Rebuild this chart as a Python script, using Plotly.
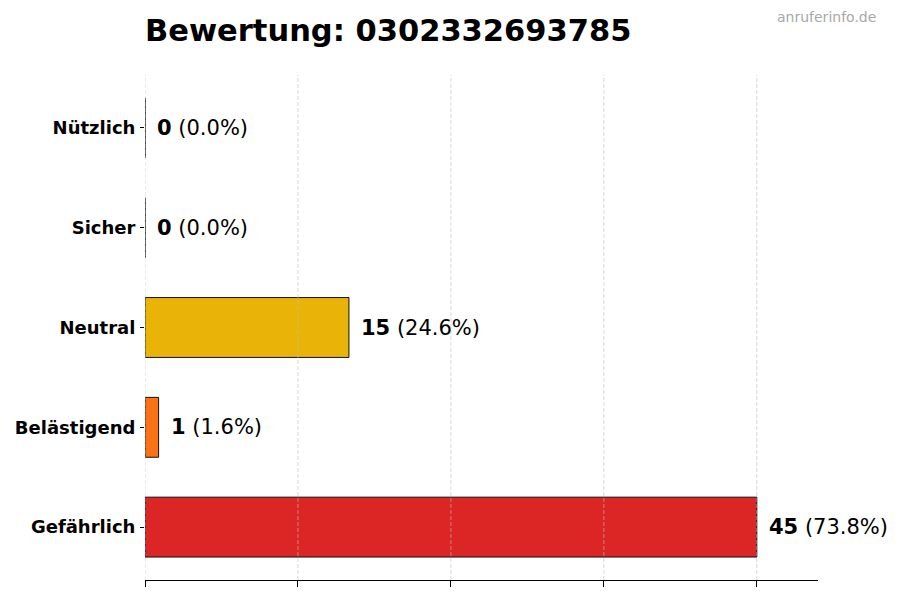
import plotly.graph_objects as go

# ----------------------------
# Data
# ----------------------------

categories = ["Gefährlich", "Belästigend", "Neutral", "Sicher", "Nützlich"]
counts = [45, 1, 15, 0, 0]
bar_colors = ["#dc2626", "#f97316", "#eab308", "#22c55e", "#16a34a"]
x_ticks = [0, 11.25, 22.5, 33.75, 45]
phone = "0302332693785"

total = sum(counts)
labels = [f"<b>{c}</b> ({c / total * 100:.1f}%)" for c in counts]

# ----------------------------
# Figure
# ----------------------------

fig = go.Figure(go.Bar(
    y=categories,
    x=counts,
    orientation="h",
    width=0.6,
    marker=dict(color=bar_colors, line=dict(color="#111111", width=1)),
    hoverinfo="skip",
))

# dashed grid drawn over the bars (like the original)
for t in x_ticks:
    fig.add_vline(x=t, line=dict(color="rgba(190,190,190,0.6)", width=1, dash="4px,2px"),
                  layer="above")

for cat, c, lab in zip(categories, counts, labels):
    fig.add_annotation(
        x=c, y=cat, text=lab, showarrow=False,
        xanchor="left", yanchor="middle", xshift=10,
        font=dict(family="DejaVu Sans", size=21, color="black"),
    )

# page body adds 8px offset, margins compensate
fig.update_layout(
    width=900, height=600,
    plot_bgcolor="white", paper_bgcolor="white",
    margin=dict(l=137, r=90, t=67, b=28),
    showlegend=False,
    title=dict(
        text=f"<b>Bewertung: {phone}</b>",
        x=137 / 900, xanchor="left", y=0.963, yanchor="middle",
        font=dict(family="DejaVu Sans", size=30.5, color="black"),
    ),
    font=dict(family="DejaVu Sans"),
)

fig.add_annotation(
    text="anruferinfo.de", xref="paper", yref="paper",
    x=1.089, y=1.115, xanchor="right", yanchor="middle", showarrow=False,
    font=dict(family="DejaVu Sans", size=14, color="#a8a8a8"),
)

fig.update_xaxes(
    range=[0, 49.5], tickvals=x_ticks, showticklabels=False,
    ticks="outside", ticklen=6, tickcolor="black",
    showline=True, linecolor="black", linewidth=1,
    showgrid=False, zeroline=False, automargin=False,
)
fig.update_yaxes(
    categoryorder="array", categoryarray=categories,
    range=[-0.53, 4.53],
    ticks="outside", ticklen=4, tickcolor="black",
    ticklabelstandoff=1, automargin=False,
    showline=False, showgrid=False,
    tickfont=dict(family="DejaVu Sans", size=18, color="black", weight="bold"),
)

fig.write_html("out.html")
